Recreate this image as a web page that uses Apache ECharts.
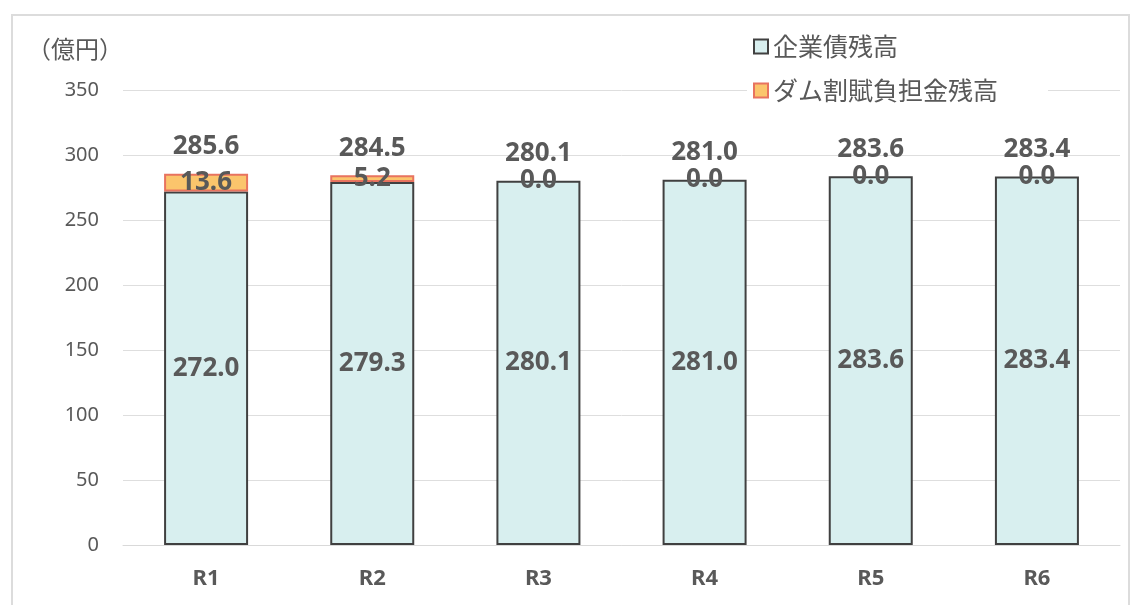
<!DOCTYPE html>
<html>
<head>
<meta charset="utf-8">
<script src="https://cdn.jsdelivr.net/npm/echarts@6/dist/echarts.min.js"></script>
<style>
  html, body { margin: 0; padding: 0; background: #fff; }
  #chart { width: 1137px; height: 605px; }
</style>
</head>
<body>
<div id="chart"></div>
<script>
// Fiscal years
const categories = ['R1', 'R2', 'R3', 'R4', 'R5', 'R6'];
// Outstanding enterprise bonds (億円)
const bondBalance = [272.0, 279.3, 280.1, 281.0, 283.6, 283.4];
// Outstanding dam installment payments (億円)
const damBalance = [13.6, 5.2, 0.0, 0.0, 0.0, 0.0];
// Y-axis ticks
const yTicks = { min: 0, max: 350, interval: 50 };

const seriesNames = ['企業債残高', 'ダム割賦負担金残高'];
const totals = bondBalance.map((v, i) => v + damBalance[i]);

const textGray = '#595959';
const numFont = '"Noto Sans", "Open Sans", sans-serif';
const jpFont = '"Noto Sans CJK JP", sans-serif';

const valueLabel = {
  show: true, position: 'inside',
  formatter: p => p.value.toFixed(1),
  color: textGray, fontSize: 26, fontWeight: 'bold', fontFamily: numFont
};

const chart = echarts.init(document.getElementById('chart'));
chart.setOption({
  animation: false,
  backgroundColor: '#fff',
  graphic: [{
    type: 'rect',
    shape: { x: 12, y: 15, width: 1117, height: 600 },
    style: { fill: 'none', stroke: '#dcdcdc', lineWidth: 2 },
    silent: true,
    z: -10
  }],
  grid: { left: 123, right: 17, top: 90, bottom: 60 },
  legend: {
    data: seriesNames,
    orient: 'vertical',
    left: 747,
    top: 30,
    itemGap: 19,
    itemWidth: 14,
    itemHeight: 14,
    icon: 'rect',
    backgroundColor: '#fff',
    padding: [4, 50, 4, 6],
    textStyle: { color: textGray, fontSize: 25, fontFamily: jpFont }
  },
  xAxis: {
    type: 'category',
    data: categories,
    axisLine: { lineStyle: { color: '#d9d9d9', width: 1 } },
    axisTick: { show: false },
    axisLabel: { color: textGray, fontSize: 22, fontWeight: 'bold', margin: 23, fontFamily: numFont }
  },
  yAxis: {
    type: 'value',
    min: yTicks.min,
    max: yTicks.max,
    interval: yTicks.interval,
    name: '（億円）',
    nameLocation: 'end',
    nameGap: 41,
    nameTextStyle: { color: textGray, fontSize: 24, fontFamily: jpFont, align: 'right', verticalAlign: 'middle', padding: [0, 0, 0, 0] },
    axisLine: { show: false },
    axisTick: { show: false },
    axisLabel: { color: textGray, fontSize: 20, margin: 24, fontFamily: numFont },
    splitLine: { lineStyle: { color: '#dedede', width: 1 } }
  },
  series: [
    {
      name: seriesNames[0],
      type: 'bar',
      stack: 'total',
      data: bondBalance,
      barWidth: 84,
      itemStyle: { color: '#d8efef', borderColor: '#404040', borderWidth: 2 },
      label: valueLabel
    },
    {
      name: seriesNames[1],
      type: 'bar',
      stack: 'total',
      // zero-height segments carry no outline so the dark bar top stays visible
      data: damBalance.map(v => v > 0 ? v : { value: v, itemStyle: { borderWidth: 0 } }),
      barWidth: 84,
      itemStyle: { color: '#fbc56c', borderColor: '#e8735f', borderWidth: 2 },
      label: valueLabel,
      z: 3
    },
    {
      // carries the stack total label above each bar
      name: 'total',
      type: 'bar',
      stack: 'total',
      data: categories.map(() => 0),
      barWidth: 84,
      itemStyle: { color: 'transparent' },
      label: {
        show: true, position: 'top', distance: 14,
        formatter: p => totals[p.dataIndex].toFixed(1),
        color: textGray, fontSize: 26, fontWeight: 'bold', fontFamily: numFont
      }
    }
  ]
});
</script>
</body>
</html>
